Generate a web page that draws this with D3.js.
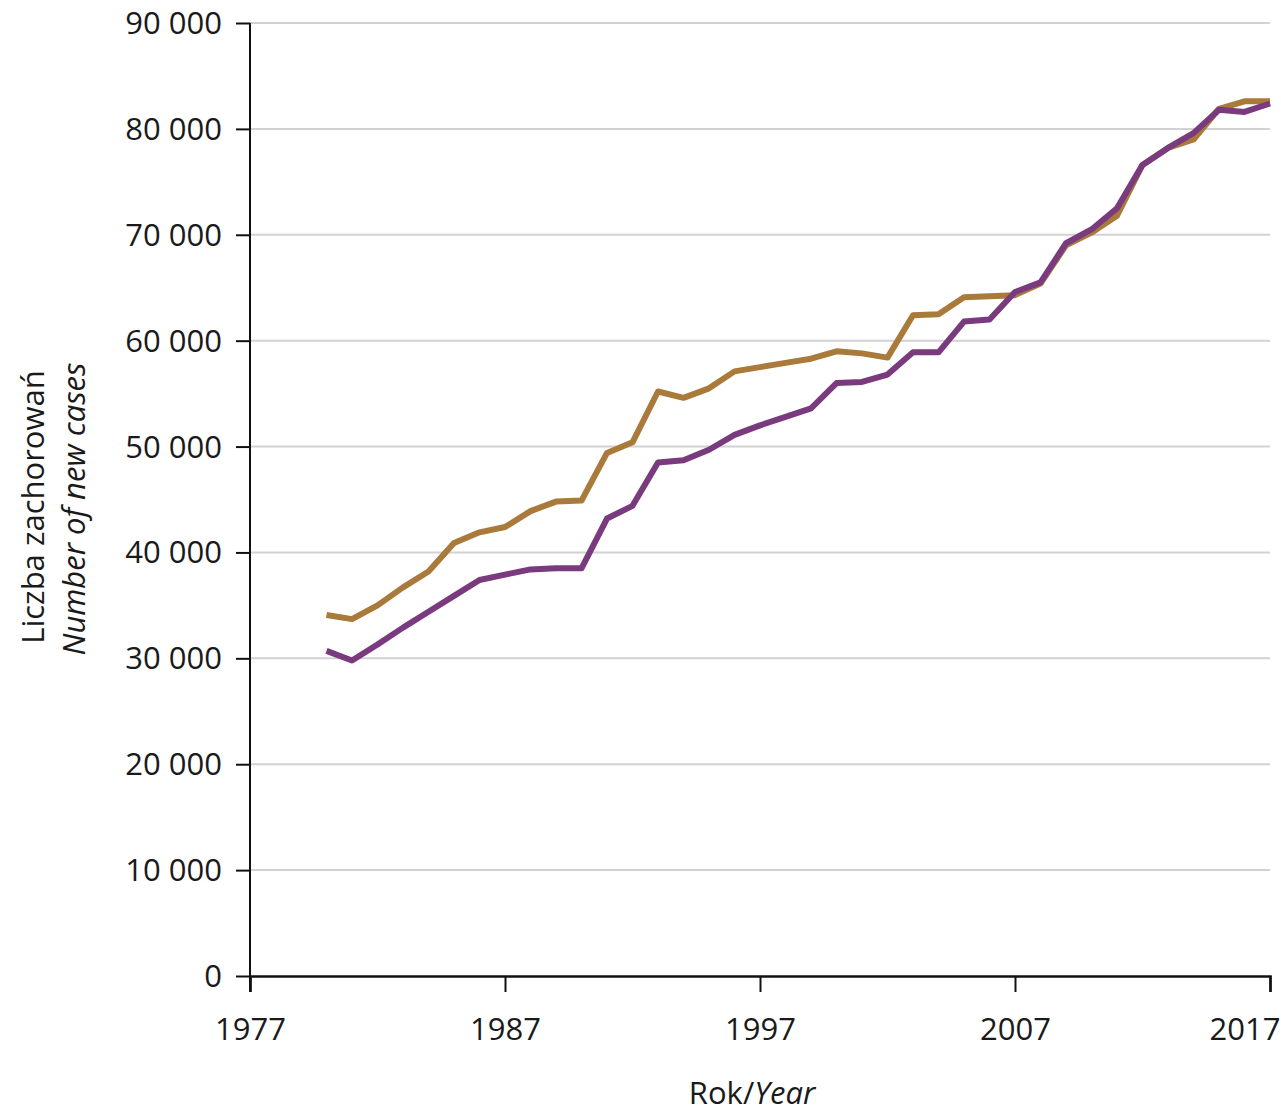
<!DOCTYPE html>
<html><head><meta charset="utf-8">
<script src="https://cdn.jsdelivr.net/npm/d3@7"></script>
<style>
html,body{margin:0;padding:0;background:#fff;}
svg text{font-family:"Open Sans","Noto Sans",sans-serif;fill:#1a1a1a;}
</style></head>
<body><svg id="c" width="1281" height="1112"></svg>
<script>
const years = d3.range(1980, 2018);
const seriesGold = [34100,33700,35000,36700,38200,40900,41900,42400,43900,44800,44900,49400,50400,55200,54600,55500,57100,57500,57900,58300,59000,58800,58400,62400,62500,64100,64200,64300,65400,69000,70200,71800,76600,78200,79000,81900,82600,82600];
const seriesPurple = [30700,29800,31300,32900,34400,35900,37400,37900,38400,38500,38500,43200,44400,48500,48700,49700,51100,52000,52800,53600,56000,56100,56800,58900,58900,61800,62000,64600,65500,69200,70500,72500,76600,78200,79600,81800,81600,82400];
const xTicks = [1977,1987,1997,2007,2017];
const yTicks = [0,10000,20000,30000,40000,50000,60000,70000,80000,90000];
const yTitle1 = "Liczba zachorowań";
const yTitle2 = "Number of new cases";
const xTitle1 = "Rok/";
const xTitle2 = "Year";

const svg = d3.select("#c");
const L=250,R=1270,T=23,B=976;
const x = d3.scaleLinear().domain([1977,2017]).range([L,R]);
const y = d3.scaleLinear().domain([0,90000]).range([B,T]);
const fmt = v => d3.format(",")(v).replace(/,/g," ");

// gridlines
svg.append("g").selectAll("line").data(yTicks.filter(d=>d>0)).join("line")
  .attr("x1",L).attr("x2",R).attr("y1",d=>y(d)).attr("y2",d=>y(d))
  .attr("stroke","#d2d2d2").attr("stroke-width",2);

// lines
const line = d3.line().x((d,i)=>x(years[i])).y(d=>y(d));
svg.append("path").datum(seriesGold).attr("d",line).attr("fill","none")
  .attr("stroke","#a97a3a").attr("stroke-width",6).attr("stroke-linejoin","round");
svg.append("path").datum(seriesPurple).attr("d",line).attr("fill","none")
  .attr("stroke","#7a3b7e").attr("stroke-width",6).attr("stroke-linejoin","round");

// y axis
const yAx = svg.append("g").attr("transform",`translate(${L},0)`)
  .call(d3.axisLeft(y).tickValues(yTicks).tickFormat(fmt).tickSize(14).tickPadding(14));
yAx.select(".domain").remove();
yAx.selectAll(".tick line").attr("stroke","#111").attr("stroke-width",2);
yAx.selectAll("text").attr("font-size",31).attr("dy","0.34em");
svg.append("line").attr("x1",L).attr("x2",L).attr("y1",T).attr("y2",992).attr("stroke","#111").attr("stroke-width",2);

// x axis
const xAx = svg.append("g").attr("transform",`translate(0,${B})`)
  .call(d3.axisBottom(x).tickValues(xTicks).tickFormat(d3.format("d")).tickSize(16).tickPadding(26));
xAx.select(".domain").attr("stroke","#111").attr("stroke-width",2.5);
xAx.selectAll(".tick line").attr("stroke","#111").attr("stroke-width",2);
xAx.selectAll("text").attr("font-size",31);
xAx.selectAll(".tick").filter(d=>d===2017).select("text").attr("text-anchor","end").attr("dx","10");

// titles
const xt = svg.append("text").attr("x",752).attr("y",1104).attr("text-anchor","middle").attr("font-size",31);
xt.append("tspan").text(xTitle1);
xt.append("tspan").attr("font-style","italic").text(xTitle2);

svg.append("text").attr("transform","translate(44,507) rotate(-90)").attr("text-anchor","middle")
  .attr("font-size",31).text(yTitle1);
svg.append("text").attr("transform","translate(85,509) rotate(-90)").attr("text-anchor","middle")
  .attr("font-size",31).attr("font-style","italic").text(yTitle2);
</script></body></html>
